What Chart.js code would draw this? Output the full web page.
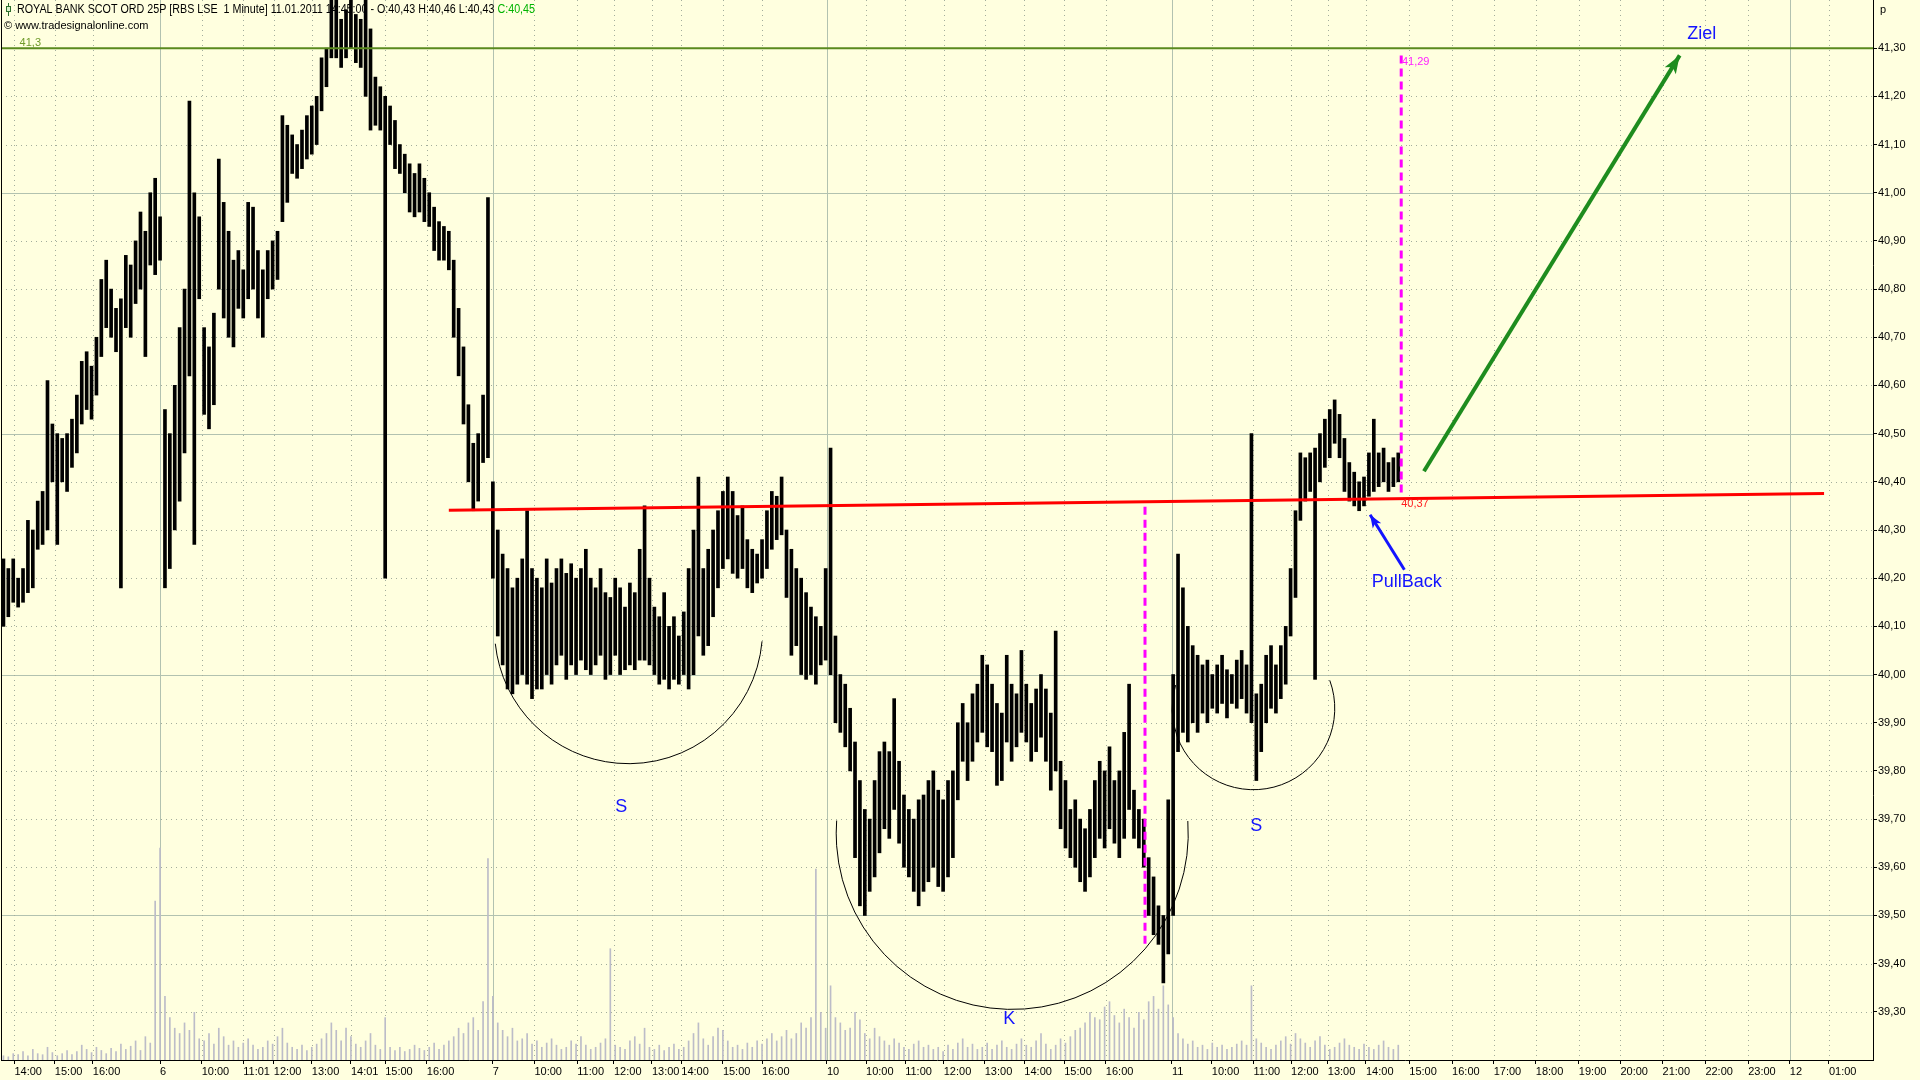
<!DOCTYPE html>
<html>
<head>
<meta charset="utf-8">
<title>ROYAL BANK SCOT ORD 25P - 1 Minute</title>
<script src="https://cdn.jsdelivr.net/npm/chart.js"></script>
<style>
  html, body { margin: 0; padding: 0; background: #ffffdf; }
  #wrap { width: 1920px; height: 1080px; }
</style>
</head>
<body>
<div id="wrap"><canvas id="myChart"></canvas></div>
<script>
// x axis = bar slot (each slot bundles a few 1-minute bars), price in pence
const tickPos = [2.25, 10.5, 18.25, 32, 40.5, 49, 55.25, 63, 71, 78, 86.5,
  100, 108.5, 117.25, 124.75, 132.5, 138.5, 147, 155,
  168.25, 176.25, 184.25, 192.125, 200.5, 208.6, 216.75, 225.25,
  238.75, 246.9, 255.4, 263.1, 270.6, 278.4, 287.25, 296, 304.5, 313.1, 321.9,
  330.4, 339, 347.75, 356.5, 365, 373];
const tickText = ['14:00', '15:00', '16:00', '6', '10:00', '11:01', '12:00', '13:00', '14:01', '15:00', '16:00',
  '7', '10:00', '11:00', '12:00', '13:00', '14:00', '15:00', '16:00',
  '10', '10:00', '11:00', '12:00', '13:00', '14:00', '15:00', '16:00',
  '11', '10:00', '11:00', '12:00', '13:00', '14:00', '15:00', '16:00', '17:00', '18:00', '19:00',
  '20:00', '21:00', '22:00', '23:00', '12', '01:00'];
const yTicks = [39.3, 39.4, 39.5, 39.6, 39.7, 39.8, 39.9, 40.0, 40.1, 40.2, 40.3,
  40.4, 40.5, 40.6, 40.7, 40.8, 40.9, 41.0, 41.1, 41.2, 41.3];

const hi = [
  40.24,40.22,40.24,40.20,40.22,40.32,40.30,40.36,40.38,40.61,
  40.52,40.50,40.49,40.50,40.53,40.58,40.65,40.67,40.64,40.70,
  40.82,40.86,40.80,40.76,40.78,40.87,40.85,40.90,40.96,40.92,
  41.00,41.03,40.95,40.55,40.50,40.60,40.72,40.80,41.19,41.00,
  40.95,40.72,40.68,40.75,41.07,40.98,40.92,40.86,40.88,40.84,
  40.98,40.97,40.88,40.84,40.88,40.90,40.92,41.16,41.14,41.12,
  41.10,41.13,41.16,41.18,41.20,41.28,41.30,41.40,41.40,41.36,
  41.38,41.40,41.37,41.36,41.40,41.34,41.24,41.22,41.20,41.18,
  41.15,41.10,41.08,41.06,41.04,41.06,41.03,41.00,40.97,40.94,
  40.93,40.92,40.86,40.76,40.68,40.56,40.48,40.50,40.58,40.99,
  40.40,40.30,40.25,40.22,40.18,40.20,40.24,40.34,40.22,40.20,
  40.18,40.24,40.19,40.22,40.24,40.21,40.23,40.20,40.22,40.26,
  40.20,40.18,40.22,40.17,40.16,40.20,40.18,40.14,40.19,40.17,
  40.26,40.35,40.20,40.14,40.12,40.17,40.10,40.12,40.08,40.13,
  40.22,40.30,40.41,40.22,40.26,40.30,40.34,40.38,40.41,40.38,
  40.33,40.35,40.28,40.26,40.25,40.28,40.34,40.38,40.37,40.41,
  40.30,40.26,40.22,40.20,40.17,40.14,40.12,40.10,40.22,40.47,
  40.08,40.00,39.98,39.93,39.86,39.78,39.72,39.70,39.78,39.84,
  39.86,39.84,39.95,39.82,39.75,39.72,39.70,39.74,39.75,39.78,
  39.80,39.76,39.74,39.78,39.80,39.90,39.94,39.90,39.96,39.98,
  40.04,40.02,39.98,39.94,39.92,40.04,39.98,39.96,40.05,39.98,
  39.94,39.97,40.00,39.97,39.92,40.09,39.82,39.78,39.72,39.74,
  39.70,39.68,39.72,39.78,39.82,39.80,39.85,39.78,39.80,39.88,
  39.98,39.76,39.72,39.70,39.62,39.58,39.52,39.50,39.74,40.00,
  40.25,40.18,40.10,40.06,40.04,40.02,40.03,40.00,40.02,40.04,
  40.01,40.00,40.03,40.05,40.02,40.50,39.96,39.98,40.04,40.06,
  40.02,40.06,40.10,40.22,40.34,40.46,40.45,40.46,40.47,40.50,
  40.53,40.55,40.57,40.54,40.49,40.44,40.42,40.40,40.41,40.46,
  40.53,40.46,40.47,40.44,40.45,40.46
];
const lo = [
  40.10,40.12,40.15,40.14,40.15,40.17,40.18,40.26,40.27,40.30,
  40.40,40.27,40.40,40.38,40.43,40.46,40.52,40.55,40.53,40.58,
  40.66,40.72,40.70,40.67,40.18,40.72,40.70,40.77,40.80,40.66,
  40.85,40.83,40.86,40.18,40.22,40.30,40.36,40.46,40.62,40.27,
  40.78,40.54,40.51,40.56,40.80,40.74,40.70,40.68,40.76,40.74,
  40.78,40.80,40.74,40.70,40.78,40.80,40.82,40.94,40.98,41.04,
  41.03,41.05,41.07,41.08,41.10,41.17,41.22,41.28,41.28,41.26,
  41.28,41.30,41.27,41.26,41.20,41.13,41.14,41.13,40.20,41.10,
  41.05,41.04,41.00,40.96,40.95,40.96,40.94,40.93,40.88,40.86,
  40.86,40.84,40.70,40.62,40.52,40.40,40.34,40.36,40.44,40.45,
  40.20,40.08,40.02,39.97,39.96,39.98,40.00,39.98,39.95,39.97,
  39.97,40.00,39.98,40.02,40.04,39.99,40.02,40.00,40.03,40.01,
  40.00,40.02,40.04,39.99,40.00,40.04,40.00,40.01,40.02,40.01,
  40.03,40.03,40.02,40.00,39.98,39.99,39.97,39.99,39.98,40.00,
  39.97,40.00,40.08,40.04,40.06,40.12,40.18,40.22,40.24,40.21,
  40.20,40.22,40.18,40.17,40.19,40.20,40.22,40.26,40.28,40.29,
  40.16,40.04,40.06,40.00,39.99,40.00,39.98,40.02,40.03,40.00,
  39.90,39.88,39.85,39.80,39.62,39.52,39.50,39.55,39.58,39.63,
  39.68,39.66,39.72,39.65,39.60,39.58,39.55,39.52,39.55,39.57,
  39.60,39.56,39.55,39.58,39.62,39.74,39.82,39.78,39.82,39.86,
  39.88,39.85,39.84,39.77,39.78,39.86,39.82,39.85,39.88,39.86,
  39.82,39.84,39.87,39.82,39.76,39.80,39.68,39.64,39.62,39.60,
  39.57,39.55,39.58,39.62,39.66,39.64,39.68,39.65,39.62,39.66,
  39.72,39.66,39.64,39.60,39.50,39.46,39.44,39.36,39.42,39.50,
  39.84,39.88,39.86,39.90,39.88,39.92,39.90,39.93,39.92,39.94,
  39.91,39.94,39.93,39.95,39.92,39.90,39.78,39.84,39.90,39.93,
  39.92,39.95,39.98,40.08,40.16,40.32,40.36,40.38,39.99,40.40,
  40.43,40.45,40.48,40.45,40.38,40.36,40.35,40.34,40.35,40.37,
  40.38,40.39,40.40,40.38,40.39,40.40
];
const vol = [
  4,3,6,5,8,4,10,6,5,12,
  7,4,6,9,5,8,14,10,7,12,
  9,6,11,8,15,10,13,18,9,22,
  16,150,200,60,40,30,25,35,28,45,
  20,18,25,15,30,22,14,18,12,16,
  20,14,10,12,18,15,22,30,16,12,
  10,14,9,12,15,20,25,35,28,18,
  30,22,15,12,18,25,14,10,40,12,
  9,12,8,10,14,11,9,12,16,10,
  14,18,22,30,25,35,40,28,55,190,
  60,35,28,22,30,18,20,25,15,18,
  12,16,20,14,10,12,18,15,22,14,
  10,12,16,20,105,14,12,10,18,22,
  15,30,12,10,14,9,12,15,10,12,
  18,25,35,20,14,22,30,28,18,12,
  14,10,16,12,18,15,20,25,18,22,
  28,20,25,35,30,40,180,45,30,70,
  40,35,28,30,45,38,25,20,30,22,
  18,14,20,16,12,10,15,18,12,14,
  10,12,8,14,10,16,20,12,15,10,
  12,16,10,14,18,12,10,15,20,14,
  12,18,25,15,10,14,20,16,22,28,
  30,35,45,40,38,50,55,42,35,48,
  40,30,45,38,55,60,48,70,52,40,
  25,20,15,18,12,14,10,16,12,14,
  10,12,15,18,14,70,20,16,12,10,
  14,18,22,15,25,20,16,12,18,22,
  14,10,12,16,20,14,12,10,15,12,
  10,14,18,12,10,14
];

// drawings on the chart (slot, price)
const targetPrice = 41.30;
const neckline = [{x: 91, y: 40.341}, {x: 372, y: 40.376}];
const measureHead = [{x: 233.25, y: 40.348}, {x: 233.25, y: 39.435}];
const measureTarget = [{x: 285.6, y: 41.285}, {x: 285.6, y: 40.377}];
const zielArrow = [{x: 290.25, y: 40.422}, {x: 342.5, y: 41.285}];
const pullArrow = [{x: 286.25, y: 40.2175}, {x: 279.25, y: 40.3315}];
const arcs = [
  [{x: 100.5, y: 40.064}, {x: 127.75, y: 39.815}, {x: 155, y: 40.069}],
  [{x: 170.25, y: 39.697}, {x: 206, y: 39.305}, {x: 242, y: 39.696}],
  [{x: 239.5, y: 39.978}, {x: 255.5, y: 39.761}, {x: 271, y: 39.988}]
];
const notes = [
  {text: '41,3', x: 3.3, y: 41.311, color: '#6f9a2a', font: '11px "Liberation Sans", Arial', align: 'left'},
  {text: '41,29', x: 285.75, y: 41.272, color: '#ff22ff', font: '11px "Liberation Sans", Arial', align: 'left'},
  {text: '40,37', x: 285.6, y: 40.353, color: '#ff2020', font: '11px "Liberation Sans", Arial', align: 'left'},
  {text: 'Ziel', x: 347, y: 41.33, color: '#1414ff', font: '18px "Liberation Sans", Arial', align: 'center'},
  {text: 'PullBack', x: 279.6, y: 40.191, color: '#1414ff', font: '18px "Liberation Sans", Arial', align: 'left'},
  {text: 'S', x: 126.25, y: 39.724, color: '#1414ff', font: '18px "Liberation Sans", Arial', align: 'center'},
  {text: 'K', x: 205.5, y: 39.285, color: '#1414ff', font: '18px "Liberation Sans", Arial', align: 'center'},
  {text: 'S', x: 256, y: 39.686, color: '#1414ff', font: '18px "Liberation Sans", Arial', align: 'center'}
];
const headMain = 'ROYAL BANK SCOT ORD 25P [RBS LSE  1 Minute] 11.01.2011 14:45:00 - O:40,43 H:40,46 L:40,43 ';
const headClose = 'C:40,45';

function circle3(a, b, c) {
  const d = 2 * (a.x * (b.y - c.y) + b.x * (c.y - a.y) + c.x * (a.y - b.y));
  const a2 = a.x * a.x + a.y * a.y, b2 = b.x * b.x + b.y * b.y, c2 = c.x * c.x + c.y * c.y;
  const ux = (a2 * (b.y - c.y) + b2 * (c.y - a.y) + c2 * (a.y - b.y)) / d;
  const uy = (a2 * (c.x - b.x) + b2 * (a.x - c.x) + c2 * (b.x - a.x)) / d;
  return {x: ux, y: uy, r: Math.hypot(a.x - ux, a.y - uy)};
}

function arrowHead(ctx, from, to, len, wid, color) {
  const ang = Math.atan2(to.y - from.y, to.x - from.x);
  ctx.save();
  ctx.translate(to.x, to.y);
  ctx.rotate(ang);
  ctx.fillStyle = color;
  ctx.beginPath();
  ctx.moveTo(0, 0);
  ctx.lineTo(-len, -wid / 2);
  ctx.lineTo(-len * 0.75, 0);
  ctx.lineTo(-len, wid / 2);
  ctx.closePath();
  ctx.fill();
  ctx.restore();
}

const paper = {
  id: 'paper',
  beforeDraw(chart) {
    const ctx = chart.ctx;
    ctx.save();
    ctx.fillStyle = '#ffffdf';
    ctx.fillRect(0, 0, chart.width, chart.height);
    ctx.restore();
  },
  beforeDatasetsDraw(chart) {
    const {ctx, chartArea: a, scales: {x, y}} = chart;
    ctx.save();
    ctx.beginPath();
    ctx.rect(a.left, a.top, a.right - a.left, a.bottom - a.top);
    ctx.clip();
    ctx.lineWidth = 1;
    yTicks.forEach(v => {
      const py = Math.round(y.getPixelForValue(v)) + 0.5;
      const major = Math.round(v * 100) % 50 === 0;
      ctx.strokeStyle = major ? '#b2c2b0' : '#a3ad9c';
      ctx.setLineDash(major ? [] : [1, 4]);
      ctx.beginPath(); ctx.moveTo(a.left, py); ctx.lineTo(a.right, py); ctx.stroke();
    });
    tickPos.forEach((v, i) => {
      const px = Math.round(x.getPixelForValue(v)) + 0.5;
      const day = tickText[i].indexOf(':') < 0;
      ctx.strokeStyle = day ? '#b2c2b0' : '#a3ad9c';
      ctx.setLineDash(day ? [] : [1, 4]);
      ctx.beginPath(); ctx.moveTo(px, a.top); ctx.lineTo(px, a.bottom); ctx.stroke();
    });
    ctx.restore();
  },
  afterDatasetsDraw(chart) {
    const {ctx, chartArea: a, scales: {x, y}} = chart;
    const P = p => ({x: x.getPixelForValue(p.x), y: y.getPixelForValue(p.y)});
    ctx.save();
    // rounded formations
    ctx.strokeStyle = '#000';
    ctx.lineWidth = 1;
    arcs.forEach(pts => {
      const [l, m, r] = pts.map(P);
      const c = circle3(l, m, r);
      ctx.beginPath();
      ctx.arc(c.x, c.y, c.r, Math.atan2(r.y - c.y, r.x - c.x), Math.atan2(l.y - c.y, l.x - c.x), false);
      ctx.stroke();
    });
    arrowHead(ctx, P(zielArrow[0]), P(zielArrow[1]), 18, 13, '#1e8c1e');
    arrowHead(ctx, P(pullArrow[0]), P(pullArrow[1]), 13, 10, '#1414ff');
    notes.forEach(n => {
      const p = P(n);
      ctx.font = n.font;
      ctx.fillStyle = n.color;
      ctx.textAlign = n.align;
      ctx.textBaseline = 'middle';
      ctx.fillText(n.text, p.x, p.y);
    });
    // left frame
    ctx.strokeStyle = '#000';
    ctx.beginPath(); ctx.moveTo(a.left + 0.5, a.top); ctx.lineTo(a.left + 0.5, a.bottom); ctx.stroke();
    ctx.restore();
  },
  afterDraw(chart) {
    const ctx = chart.ctx;
    ctx.save();
    // small bar icon
    ctx.strokeStyle = '#2c6e2c';
    ctx.lineWidth = 1;
    ctx.beginPath(); ctx.moveTo(8.5, 3); ctx.lineTo(8.5, 16); ctx.stroke();
    ctx.fillStyle = '#d8f0c8';
    ctx.fillRect(6, 6, 5, 6);
    ctx.strokeRect(6.5, 6.5, 4, 5);
    // title line
    ctx.font = '12px "Liberation Sans", Arial, sans-serif';
    ctx.textBaseline = 'middle';
    ctx.textAlign = 'left';
    const w = ctx.measureText(headMain + headClose).width;
    ctx.translate(17, 10);
    ctx.scale(518 / w, 1);
    ctx.fillStyle = '#000';
    ctx.fillText(headMain, 0, 0);
    ctx.fillStyle = '#00b400';
    ctx.fillText(headClose, ctx.measureText(headMain).width, 0);
    ctx.restore();
    ctx.save();
    ctx.font = '11px "Liberation Sans", Arial, sans-serif';
    ctx.textBaseline = 'middle';
    ctx.fillStyle = '#000';
    ctx.fillText('\u00a9 www.tradesignalonline.com', 4, 26);
    ctx.fillText('p', 1880, 10);
    ctx.restore();
  }
};

const lineDs = (pts, color, width, dash) => ({
  type: 'line', data: pts, yAxisID: 'y', borderColor: color, borderWidth: width,
  borderDash: dash || [], pointRadius: 0, fill: false, tension: 0, order: 1
});

new Chart('myChart', {
  type: 'bar',
  data: {
    datasets: [
      lineDs([{x: -0.5, y: targetPrice}, {x: 382, y: targetPrice}], '#5a8a1e', 2),
      lineDs(neckline, '#ff0000', 3),
      lineDs(measureHead, '#ff00ff', 3, [8, 5]),
      lineDs(measureTarget, '#ff00ff', 3, [8, 5]),
      lineDs(zielArrow, '#1e8c1e', 4),
      lineDs(pullArrow, '#1414ff', 3),
      {
        type: 'bar', label: 'RBS', yAxisID: 'y', order: 5, grouped: false,
        data: hi.map((h, i) => ({x: i, y: [lo[i], h]})),
        backgroundColor: '#000', barThickness: 3
      },
      {
        type: 'bar', label: 'Volume', yAxisID: 'yv', order: 10, grouped: false,
        data: vol.map((v, i) => ({x: i, y: v})),
        backgroundColor: '#bcbcc8', barThickness: 1
      }
    ]
  },
  options: {
    responsive: true,
    maintainAspectRatio: false,
    animation: false,
    events: [],
    layout: {padding: {left: 1, top: 0, right: 0, bottom: 0}},
    plugins: {legend: {display: false}, tooltip: {enabled: false}},
    scales: {
      x: {
        type: 'linear', min: -0.5, max: 382, offset: false,
        afterBuildTicks: s => { s.ticks = tickPos.map(v => ({value: v})); },
        afterFit: s => { s.height = 20; s.paddingLeft = 0; s.paddingRight = 0; },
        grid: {drawOnChartArea: false, drawTicks: true, tickLength: 4, tickColor: '#000', offset: false},
        border: {display: true, color: '#000', width: 1},
        ticks: {
          autoSkip: false, maxRotation: 0, minRotation: 0, align: 'start', padding: 1,
          color: '#000', font: {family: '"Liberation Sans", Arial', size: 11},
          callback: (v, i) => tickText[i]
        }
      },
      y: {
        type: 'linear', position: 'right', min: 39.2, max: 41.4,
        afterBuildTicks: s => { s.ticks = yTicks.map(v => ({value: v})); },
        afterFit: s => { s.width = 47; s.paddingTop = 0; s.paddingBottom = 0; },
        grid: {drawOnChartArea: false, drawTicks: true, tickLength: 4, tickColor: '#000'},
        border: {display: true, color: '#000', width: 1},
        ticks: {
          padding: 1, color: '#000', font: {family: '"Liberation Sans", Arial', size: 11},
          callback: v => v.toFixed(2).replace('.', ',')
        }
      },
      yv: {type: 'linear', display: false, min: 0, max: 1000}
    }
  },
  plugins: [paper]
});
</script>
</body>
</html>
